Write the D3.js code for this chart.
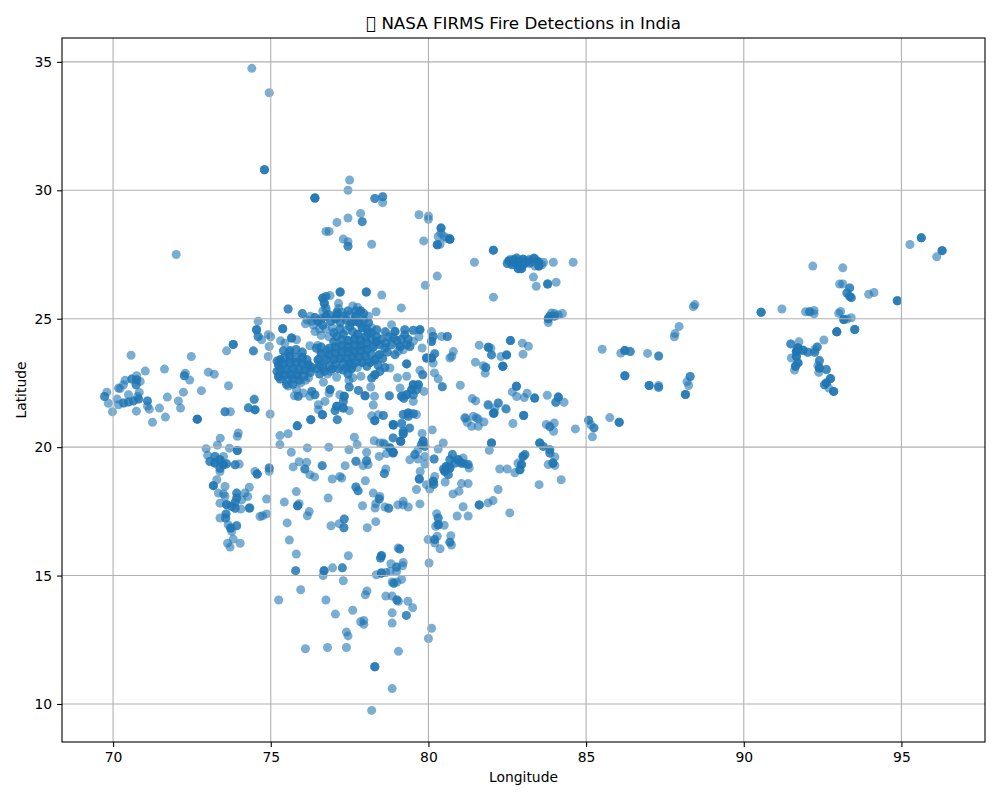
<!DOCTYPE html>
<html>
<head>
<meta charset="utf-8">
<script src="https://cdn.jsdelivr.net/npm/d3@7"></script>
<style>
  html, body { margin: 0; padding: 0; background: #fff; }
  svg { display: block; }
  text { font-family: "DejaVu Sans", sans-serif; fill: #000; }
</style>
</head>
<body>
<div id="chart"></div>
<script>
// [longitude, latitude, detections at that spot]
const northOutliers = [[74.4,34.75,1],[74.95,33.8,1],[74.8,30.8,3],[77.5,30.4,1],[77.45,30,1],[76.4,29.7,4],[78.3,29.68,2],[78.55,29.75,2],[78.55,29.52,1],[79.7,29.05,1],[80,29,1],[80,28.87,1],[77.85,29.1,1],[77.45,28.92,1],[77.9,28.78,2],[77.1,28.75,1],[76.75,28.4,1],[76.85,28.4,1],[77.3,28.1,1],[77.45,28,1],[77.45,27.82,2],[78.2,27.9,1],[72,27.5,1],[80.4,28.53,3],[80.4,28.33,1],[80.31,28.2,1],[80.5,28.2,1],[80.68,28.1,5],[80.58,28.12,1],[80.28,27.88,3],[80.37,27.9,1],[79.85,28.03,1],[80.28,26.66,1],[79.9,26.3,1]];

const ganges = [[81.46,27.2,1],[82.06,27.67,3],[82.06,25.84,1],[82.55,27.25,3],[82.6,27.32,1],[82.7,27.18,3],[82.72,27.3,3],[82.8,27.36,2],[82.85,27.1,3],[82.85,26.95,3],[82.92,27.22,3],[83,27.32,3],[83.1,27.2,2],[83.2,27.15,1],[83.2,27.3,2],[83.35,27.35,3],[83.45,27.25,2],[83.5,27.05,3],[83.38,27.05,1],[83.65,27.2,1],[82.65,27.1,2],[83,27.1,3],[82.95,26.95,3],[83.25,27.2,2],[83.5,27.2,2],[83.6,27.1,1],[82.5,27.15,2],[83.96,27.2,1],[84.59,27.2,1],[83.33,26.62,1],[83.42,26.26,1],[83.78,26.35,3],[84.05,26.42,1],[83.8,25,3],[83.85,25.1,2],[84,25.1,2],[84,25.2,1],[84.25,25.2,1],[84.12,25.15,1],[83.9,25.22,1],[83.8,24.85,1],[82.6,24.15,3],[81.61,23.97,1],[81.9,23.89,3],[81.98,23.85,1],[82.98,24.05,1],[83.17,23.93,1],[83,23.62,1],[82.48,23.59,3],[82.3,23.53,1],[82.36,23.15,4],[82,23.59,2],[81.49,23.31,1],[81.74,23.17,1],[81.82,23.1,2],[81.8,22.88,1],[81.01,22.41,1],[82.79,22.37,3],[82.66,22.15,1],[82.8,21.97,1],[83.13,22.1,1],[83.04,21.93,1],[83.37,21.91,3],[83.77,22.02,1],[84.12,21.95,3],[84.04,21.75,2],[84.3,21.75,1],[81.39,21.89,1],[81.5,21.8,1],[81.9,21.63,1],[82.22,21.72,1],[82.11,21.52,1],[82.47,21.48,1],[82.06,21.32,2],[81.18,21.13,1],[81.42,21.2,1],[81.58,21.1,1],[83.02,21.23,3],[85.51,23.81,1],[86.1,23.66,1],[86.23,23.76,3],[86.23,22.78,3],[86.4,23.72,2],[88.45,25.55,1],[88.4,25.47,1],[87.95,24.7,1],[87.82,24.42,1],[87.8,24.3,1],[88.3,22.75,2],[88.2,22.55,1],[88.25,22.4,1],[88.15,22.05,3],[87.3,23.55,2],[86.95,23.65,1],[87.3,22.4,1],[87.3,22.33,2],[87,22.4,3],[86.05,20.97,3],[85.75,21.15,1],[85.08,21.05,2],[85.15,20.87,1],[85.25,20.75,2],[85.2,20.4,1]];

const northeast = [[95.63,28.15,3],[95.27,27.89,1],[96.29,27.65,3],[96.12,27.41,1],[92.19,27.05,1],[93.14,26.98,1],[93.04,26.35,1],[93.14,26.35,1],[93.36,26.2,2],[93.27,26,2],[93.36,25.87,2],[93.41,25.82,2],[93.96,25.95,1],[94.13,26.02,1],[94.87,25.7,3],[91.21,25.38,1],[90.55,25.25,3],[91.96,25.27,1],[92.09,25.27,2],[92.23,25.32,1],[92.23,25.19,1],[93.01,25.21,1],[93.07,25.28,1],[93.41,25.04,1],[93.17,24.97,3],[93.27,24.99,1],[92.95,24.49,4],[93.52,24.58,3],[92.54,24.17,1],[91.49,24.02,2],[91.75,24.1,1],[91.72,23.86,4],[91.67,23.73,4],[91.88,23.77,3],[92.03,23.69,2],[92.25,23.69,2],[92.33,23.9,2],[92.25,23.8,1],[91.51,23.47,1],[91.67,23.54,3],[91.72,23.28,3],[91.64,23.15,3],[91.61,23,1],[92.4,23.37,2],[92.35,23.17,1],[92.4,23.08,3],[92.38,22.91,1],[92.62,23.02,2],[92.75,22.67,3],[92.62,22.5,3],[92.56,22.43,2],[92.7,22.3,1],[92.85,22.17,3]];

const gujarat = [[70.57,23.58,1],[72.48,23.53,1],[73.81,24,3],[73.6,23.75,1],[74.45,23.75,1],[71.02,22.96,1],[71.63,23.04,1],[72.29,22.88,1],[72.26,22.78,2],[72.43,22.61,1],[73.02,22.92,1],[73.21,22.84,1],[73.66,22.39,1],[74.48,21.87,1],[74.29,21.53,2],[74.5,21.45,1],[73.55,21.38,2],[73.72,21.38,1],[72.67,21.09,4],[72.8,22.2,1],[72.23,22.14,1],[72.07,21.8,1],[72.14,21.52,1],[71.72,21.95,1],[71.47,21.52,1],[71.66,21.17,1],[71.25,20.97,1],[71.09,21.8,2],[71.09,21.6,1],[71.15,21.48,1],[70.74,21.4,1],[70.59,22.65,2],[70.75,22.62,2],[70.86,22.56,1],[70.73,22.43,2],[70.75,22.78,1],[70.38,22.6,1],[70.17,22.3,1],[70.22,22.28,1],[70.33,22.43,1],[70.49,22.04,1],[70.83,22.13,1],[70.17,21.65,1],[70.33,21.72,2],[70.49,21.76,2],[70.65,21.8,2],[70.81,21.87,2],[70.13,21.87,1],[70.78,21.97,1],[69.8,22.14,1],[69.73,21.97,2],[69.85,21.71,1],[69.98,21.38,1]];

const konkan = [[73.4,20.35,1],[73.97,20.55,1],[73.94,20.42,1],[73.31,20.08,1],[72.95,19.94,1],[73.69,19.96,1],[73.94,19.87,3],[73,19.68,1],[73.07,19.44,2],[73.23,19.64,2],[73.23,19.38,3],[73.39,19.51,3],[73.5,19.31,3],[73.39,19.18,2],[73.6,19.35,2],[73.39,19.05,1],[73.5,19.64,1],[73.87,19.31,2],[74,19.34,1],[73.29,18.73,1],[73.18,18.5,3],[73.55,18.47,1],[74.32,18.44,1],[74.5,19.05,1],[74.57,18.95,3],[73.34,18.21,1],[73.5,18.18,1],[73.55,18.08,1],[73.92,18.21,2],[73.92,18.02,2],[73.87,17.85,2],[74.18,18.21,1],[74.27,18.08,1],[74.08,17.95,1],[73.39,17.82,1],[73.6,17.76,3],[73.76,17.69,2],[73.87,17.62,2],[74.05,17.59,1],[74.32,17.63,2],[74.66,17.3,1],[73.58,17.4,2],[73.39,17.24,1],[73.57,17.24,2],[73.65,16.98,1],[73.92,16.94,2],[73.73,16.85,3],[73.76,16.72,1],[73.81,16.42,1],[73.63,16.26,1],[73.71,16.11,1],[74.03,16.26,1],[74.95,19.19,2],[74.95,19.06,1],[74.87,17.98,1],[74.74,17.33,1],[74.87,17.4,1],[74.34,17.63,1]];

const deccan = [[75.29,20.45,1],[75.55,20.52,1],[75.29,20.1,1],[76.16,19.97,1],[76.84,20,1],[77.65,20.39,1],[77.74,20.1,1],[77.48,19.9,1],[75.65,19.8,1],[75.9,19.43,1],[76.14,19.41,1],[75.71,19.23,1],[76.08,19.15,2],[76.24,18.93,1],[76.39,18.84,1],[76.63,19.28,2],[77.36,19.28,1],[77.7,19.45,2],[78.04,19.8,1],[78.04,19.47,2],[77.93,19.28,1],[78.09,19.32,1],[78.28,20.25,1],[78.46,20.16,1],[78.62,20.1,1],[78.44,19.64,1],[78.67,19.75,1],[78.88,19.8,3],[78.78,19.97,1],[79.12,20.23,2],[79.2,20.52,3],[78.88,20.36,1],[78.65,19.15,1],[78.6,18.97,2],[77.19,18.86,1],[76.95,18.76,1],[77.25,18.8,1],[78,18.69,1],[77.7,18.45,2],[77.77,18.3,2],[78.25,18.21,1],[78.46,18.08,1],[78.44,17.98,2],[78.33,17.8,1],[78.31,17.63,1],[77.91,17.72,1],[78.62,17.67,1],[78.74,17.62,2],[79.03,17.75,1],[79.2,17.89,1],[79.2,17.75,1],[79.36,17.67,1],[75.81,18.27,1],[75.43,17.86,1],[75.9,17.8,1],[75.85,17.72,3],[76.82,18.02,1],[76.22,17.49,1],[76.16,17.33,1],[75.52,17.05,1],[75.59,16.38,1],[75.81,15.84,1],[75.79,15.19,2],[76.69,15.19,3],[76.66,15,1],[76.96,15.3,1],[77.27,15.3,2],[77.46,15.77,1],[77.33,17.2,2],[77.17,17.02,1],[76.91,16.94,1],[77.32,16.86,2],[78.06,16.86,1],[78.33,17.1,1],[79.04,16.07,1],[79.09,16.03,2],[78.51,15.77,3],[78.48,15.68,2],[78.35,15.03,1],[78.51,15.1,3],[78.65,15.12,1],[78.81,15.46,1],[78.99,15.33,2],[78.99,15.16,1],[79.2,15.51,1],[79.18,15.38,1],[78.78,15.16,1]];

const southIndia = [[75.25,14.05,1],[75.95,14.45,1],[76.75,14.05,1],[77.05,13.5,1],[77.3,14.8,1],[77.6,13.65,1],[77.85,13.2,1],[77.95,13.1,1],[77.95,13.25,1],[78,14.25,1],[78.05,14.4,1],[77.4,12.8,1],[77.45,12.65,1],[76.1,12.15,1],[76.8,12.2,1],[77.4,12.2,1],[78.3,11.45,3],[78.85,10.6,1],[78.2,9.75,1],[79.05,12.05,1],[78.85,13.15,1],[78.85,13.55,1],[79.3,13.45,2],[79.35,14,1],[79.5,13.75,1],[78.9,14.7,2],[78.85,14.75,1],[79,14.75,1],[79.15,14.85,1],[78.65,14.2,1],[78.85,14.2,1],[79,14.05,2],[79.05,14,1],[80,12.55,1],[80.1,12.95,1],[80.02,15.49,1]];

const eastCoast = [[79.2,21.27,2],[79.36,21.33,3],[79.52,21.3,2],[79.36,21.2,2],[79.62,21.27,1],[78.88,20.88,2],[79.15,20.94,1],[79.2,20.62,2],[79.41,20.75,1],[79.8,20.53,1],[80.12,20.67,1],[78.88,20.36,1],[79.12,20.23,2],[78.57,20.16,1],[78.78,19.97,2],[78.88,19.77,2],[78.57,21.23,2],[79.83,20.23,3],[79.78,20.1,2],[79.89,20.03,2],[79.67,19.9,1],[79.57,19.71,2],[79.41,19.51,1],[79.67,19.54,1],[79.89,19.64,1],[80.18,19.54,2],[79.89,19.34,1],[80.31,19.93,1],[80.47,20.16,1],[79.74,19.05,1],[79.71,18.76,3],[80.2,18.86,1],[80.15,18.67,3],[80.17,18.55,2],[79.94,18.54,1],[80.04,18.37,1],[80.53,18.64,1],[79.62,18.35,1],[80.76,19.71,2],[80.68,19.51,2],[80.94,19.51,3],[81.1,19.58,1],[81.05,19.38,3],[81.26,19.32,2],[81.29,19.19,1],[81.15,19.35,1],[80.57,19.25,3],[80.68,19.19,3],[80.52,19.06,3],[80.48,19.15,2],[80.84,19.38,2],[80.63,18.93,2],[81.05,18.58,1],[81.26,18.58,1],[80.97,18.28,1],[80.78,18.18,1],[82.21,18.35,1],[82.05,17.92,1],[81.89,17.83,1],[81.61,17.75,3],[81.1,17.68,1],[80.91,17.32,1],[81.26,17.32,1],[82.58,17.44,1],[79.73,17.79,1],[80.26,17.41,1],[80.31,17.24,2],[80.31,16.98,3],[80.23,16.92,1],[80.5,16.96,1],[79.99,16.4,1],[80.2,16.4,2],[80.28,16.53,1],[80.2,16.27,1],[80.71,16.55,1],[80.68,16.3,2],[80.73,16.19,1],[80.37,16.04,1],[82.26,19.15,1],[82.5,19.15,1],[82.74,19,1],[82.9,19.12,3],[82.84,19.38,1],[82.95,19.32,3],[83,19.64,3],[83.06,19.71,2],[83.51,18.54,1],[84.21,18.73,1],[83.53,20.16,3],[83.64,20.03,2],[83.85,19.9,2],[83.85,19.77,2],[84.01,19.62,1],[83.95,19.38,3],[83.8,19.32,1],[84.01,19.29,1],[82,20.16,3],[81.93,19.88,1],[81.15,21.14,1],[81.23,20.97,1],[81.52,21.14,1],[81.37,20.81,1],[81.58,20.81,1],[81.76,20.98,1],[82.68,20.92,1],[82.08,21.33,3],[82.21,21.72,1],[81.89,21.66,1],[82.45,21.5,1],[83.74,20.88,1],[83.99,20.94,1],[83.85,20.8,2],[83.97,20.62,1],[84.66,20.71,1]];

const centralWest = [[74.45,23.74,1],[74.92,23.53,1],[74.95,23.92,1],[74.55,24.57,3],[74.6,24.9,1],[74.6,24.31,2],[74.71,24.18,1],[74.92,24.38,1],[75,24.3,1],[75.38,24.61,3],[74.98,21.29,1],[74.47,21.85,1],[74.5,21.46,2],[75.55,25.38,2],[75.31,24.14,1],[75.66,24.25,3],[75.82,24.18,1],[75.45,24.05,1],[76.24,23.95,1],[76.49,23.96,1],[76.79,23.77,1],[75.3,23.4,3],[75.45,23.5,2],[75.6,23.55,3],[75.8,23.5,2],[76,23.5,3],[76.15,23.4,2],[75.25,23.2,3],[75.4,23.25,3],[75.6,23.3,3],[75.8,23.3,3],[76,23.25,3],[76.2,23.2,3],[76.3,23.1,2],[75.3,23,3],[75.5,23,3],[75.7,23.05,3],[75.9,23,3],[76.1,23,3],[76.25,22.9,2],[75.25,22.75,3],[75.45,22.8,3],[75.65,22.8,3],[75.85,22.8,3],[76.05,22.75,2],[75.3,22.65,2],[75.5,22.6,1],[75.7,22.65,2],[75.4,23.75,2],[75.6,23.75,3],[75.8,23.8,2],[76,23.7,2],[75.5,22.45,2],[75.7,22.45,2],[75.9,22.6,2],[76.2,22.7,1],[75.2,22.95,2],[75.2,23.35,2],[75.82,22.24,1],[76.03,22.11,1],[75.87,21.98,2],[76.3,22.17,2],[76.4,22.04,2],[76.24,21.98,1],[76.88,22.24,3],[76.85,22.1,1],[76.51,21.65,1],[76.51,21.46,1],[76.72,21.78,1],[76.64,21.26,3],[76.27,21.07,3],[75.84,20.83,3],[75.55,22.38,1],[75.75,22.0,1],[75.95,22.5,1],[76.1,22.6,1]];

const centralCore = [[76.65,25.8,3],[76.75,25.87,2],[76.7,25.6,3],[76.75,25.4,2],[76.65,25.3,1],[76.88,25.9,1],[77.2,26.04,3],[78.03,26.04,3],[78.52,25.92,1],[79.14,25.42,1],[78.34,25.27,1],[77.15,25.6,1],[77.15,25.4,1],[77.1,25.25,2],[77.6,25.5,1],[77.85,25.3,3],[77.95,25.2,2],[76,25.2,2],[76.25,25.1,1],[76.15,24.95,1],[76.4,25.05,2],[76.5,24.9,3],[76.65,24.75,2],[76.75,25.1,3],[76.9,24.9,2],[77.05,25,3],[77.1,25.15,2],[77.2,24.85,2],[77.3,25.1,2],[77.4,24.95,2],[77.5,25.15,1],[77.55,24.85,2],[76.35,24.75,1],[76.55,24.6,1],[76.75,24.6,1],[76.95,24.65,1],[77.7,25.1,3],[77.8,24.85,3],[77.65,24.9,2],[77.9,24.65,3],[77.75,24.4,3],[78,24.3,3],[77.6,24.5,2],[77.4,24.55,1],[77.3,24.4,2],[78.1,24.85,2],[78.2,24.2,2],[77.85,24.15,3],[77.65,24.2,3],[77.45,24.15,3],[77.25,24.2,2],[77,24.1,2],[78.05,24.05,3],[77.85,23.95,3],[77.65,23.95,3],[77.45,23.9,3],[77.25,23.95,3],[77.05,23.9,3],[76.85,23.85,2],[78.25,23.9,3],[78.05,23.8,3],[77.85,23.75,3],[77.65,23.7,3],[77.45,23.7,3],[77.25,23.7,3],[77.05,23.65,3],[76.85,23.6,3],[76.6,23.65,3],[78.2,23.6,2],[78,23.55,3],[77.8,23.5,3],[77.6,23.5,3],[77.4,23.45,3],[77.2,23.45,3],[77,23.4,3],[76.75,23.4,3],[76.5,23.4,3],[77.9,23.3,3],[77.7,23.3,2],[77.5,23.25,3],[77.3,23.25,2],[77.05,23.2,2],[76.85,23.15,2],[76.55,23.2,2],[76.7,22.95,2],[76.9,22.95,1],[77.55,23.05,3],[77.45,22.85,2],[77.6,22.7,1],[77.48,22.6,1],[76.67,22.53,1],[77.09,22.72,1],[77.49,22.34,2],[77.19,22.04,1],[77.33,21.98,3],[77.3,21.78,2],[77.09,21.59,3],[77.04,21.42,2],[77.3,21.52,3],[77.49,21.42,1],[77.11,21.07,2]];

const centralFill = [[76.45,23.85,2],[76.6,23.9,2],[76.45,23.05,2],[76.65,23.1,2],[76.55,22.85,2],[76.8,22.85,1],[76.95,23.05,2],[77.15,23.05,2],[77.3,23,2],[77.4,23.1,2],[77.6,23.2,2],[77.75,23.1,1],[78.05,23.15,2],[78.15,23.3,3],[78.3,23.4,3],[78.45,23.6,3],[78.55,23.45,2],[78.4,23.2,2],[78.7,23.7,2],[78.5,24.2,2],[78.35,24.1,3],[78.65,24.05,2],[78.75,24.3,2],[79,24.15,2],[79.15,24.2,2],[78.2,24.45,2],[78.05,24.6,2],[77.95,24.95,2],[78.2,24.65,1],[78.35,24.3,2],[77.5,24.7,2],[77.2,24.6,2],[77,24.45,2],[76.85,24.3,1],[77.1,24.3,2],[76.6,24.35,1],[76.4,24.5,1],[76.1,24.8,1],[76.3,24.9,1],[76.6,25,2],[76.85,25.15,2],[77.25,25.25,1],[77.45,25.3,2],[77.7,25.3,2],[77.75,25.45,1],[78.1,25.1,1],[78.1,24.45,2],[79.35,24.2,2],[79.7,24.3,1]];

const centralEast = [[78.62,24.5,1],[78.83,24.77,1],[78.94,24.5,3],[79.25,24.57,2],[79.25,24.38,2],[79.52,24.55,2],[79.73,24.57,3],[80.1,24.5,1],[80.15,24.31,2],[80.1,24.12,3],[80.42,24.31,1],[80.6,24.31,2],[78.36,24.57,2],[78.65,24.48,1],[78.89,24.25,2],[79.52,24.12,1],[79.31,23.99,2],[79.1,23.92,3],[79.41,23.92,2],[78.83,23.99,2],[78.62,23.86,2],[78.46,23.99,2],[78.94,23.6,2],[79.31,23.24,3],[79.04,23.73,1],[79.2,23.79,1],[79.8,23.86,1],[79.94,23.47,3],[80.1,23.47,3],[80.2,23.64,2],[80.68,23.47,1],[80.15,23.27,1],[80.79,23.72,1],[80.74,23.53,1],[78.78,23.08,1],[78.62,23.1,2],[78.46,22.95,2],[78.3,22.82,3],[78.2,22.69,2],[77.86,22.76,1],[78.17,22.34,1],[77.78,22.21,2],[77.99,22,3],[78.29,21.98,1],[78.25,21.64,1],[78.76,22,2],[79.02,22.7,1],[79.31,22.76,1],[79.73,22.99,1],[79.82,22.82,2],[80.19,22.89,1],[80.31,22.66,1],[80.44,22.35,2],[79.86,22.17,1],[79.52,22.43,3],[79.68,22.43,3],[79.47,22.24,3],[79.63,22.24,2],[79.31,22.04,3],[79.15,21.98,3],[79.52,22.04,2],[79.1,22.3,1],[79.22,21.9,2],[79.52,21.78,1],[78.2,21.22,1],[78.3,21.03,3],[78.41,21.26,1],[79.15,20.91,1],[79.39,20.74,1],[78.89,20.86,3]];

const regions = [northOutliers, ganges, northeast, gujarat, konkan, deccan, southIndia, eastCoast, centralWest, centralCore, centralFill, centralEast];
const xTicks = [70, 75, 80, 85, 90, 95];
const yTicks = [10, 15, 20, 25, 30, 35];
const titleText = "\uE000 NASA FIRMS Fire Detections in India";

const width = 1000, height = 800;
const margin = { top: 38, right: 15, bottom: 58, left: 62 };

const x = d3.scaleLinear().domain([68.38, 97.65]).range([margin.left, width - margin.right]);
const y = d3.scaleLinear().domain([8.52, 35.93]).range([height - margin.bottom, margin.top]);

const svg = d3.select("#chart").append("svg")
  .attr("width", width)
  .attr("height", height);

// one circle per detection, so repeats darken like the original
const points = regions.flat().flatMap(d => d3.range(d[2]).map(() => d));

svg.append("g")
  .selectAll("circle")
  .data(points)
  .join("circle")
  .attr("cx", d => x(d[0]))
  .attr("cy", d => y(d[1]))
  .attr("r", 4.5)
  .attr("fill", "#1f77b4")
  .attr("fill-opacity", 0.6);

// grid sits above the points
const grid = svg.append("g")
  .attr("stroke", "#b0b0b0")
  .attr("stroke-width", 1.1);

grid.selectAll(".vgrid")
  .data(xTicks)
  .join("line")
  .attr("class", "vgrid")
  .attr("x1", d => x(d)).attr("x2", d => x(d))
  .attr("y1", margin.top).attr("y2", height - margin.bottom);

grid.selectAll(".hgrid")
  .data(yTicks)
  .join("line")
  .attr("class", "hgrid")
  .attr("x1", margin.left).attr("x2", width - margin.right)
  .attr("y1", d => y(d)).attr("y2", d => y(d));

const styleAxis = g => {
  g.selectAll("text").attr("font-size", 13.9).attr("font-family", '"DejaVu Sans", sans-serif').attr("fill", "#000");
  g.selectAll("line").attr("stroke", "#000").attr("stroke-width", 1.1);
  g.select(".domain").remove();
};

svg.append("g")
  .attr("transform", `translate(0,${height - margin.bottom})`)
  .call(d3.axisBottom(x).tickValues(xTicks).tickFormat(d3.format("d")).tickSize(4.9).tickPadding(4.9))
  .call(styleAxis);

svg.append("g")
  .attr("transform", `translate(${margin.left},0)`)
  .call(d3.axisLeft(y).tickValues(yTicks).tickFormat(d3.format("d")).tickSize(4.9).tickPadding(4.9))
  .call(styleAxis);

svg.append("rect")
  .attr("x", margin.left)
  .attr("y", margin.top)
  .attr("width", width - margin.left - margin.right)
  .attr("height", height - margin.top - margin.bottom)
  .attr("fill", "none")
  .attr("stroke", "#000")
  .attr("stroke-width", 1.1);

svg.append("text")
  .attr("x", (margin.left + width - margin.right) / 2)
  .attr("y", 29)
  .attr("text-anchor", "middle")
  .attr("font-size", 16.7)
  .text(titleText);

svg.append("text")
  .attr("x", (margin.left + width - margin.right) / 2)
  .attr("y", 782)
  .attr("text-anchor", "middle")
  .attr("font-size", 13.9)
  .text("Longitude");

svg.append("text")
  .attr("transform", `translate(26,${(margin.top + height - margin.bottom) / 2}) rotate(-90)`)
  .attr("text-anchor", "middle")
  .attr("font-size", 13.9)
  .text("Latitude");
</script>
</body>
</html>
